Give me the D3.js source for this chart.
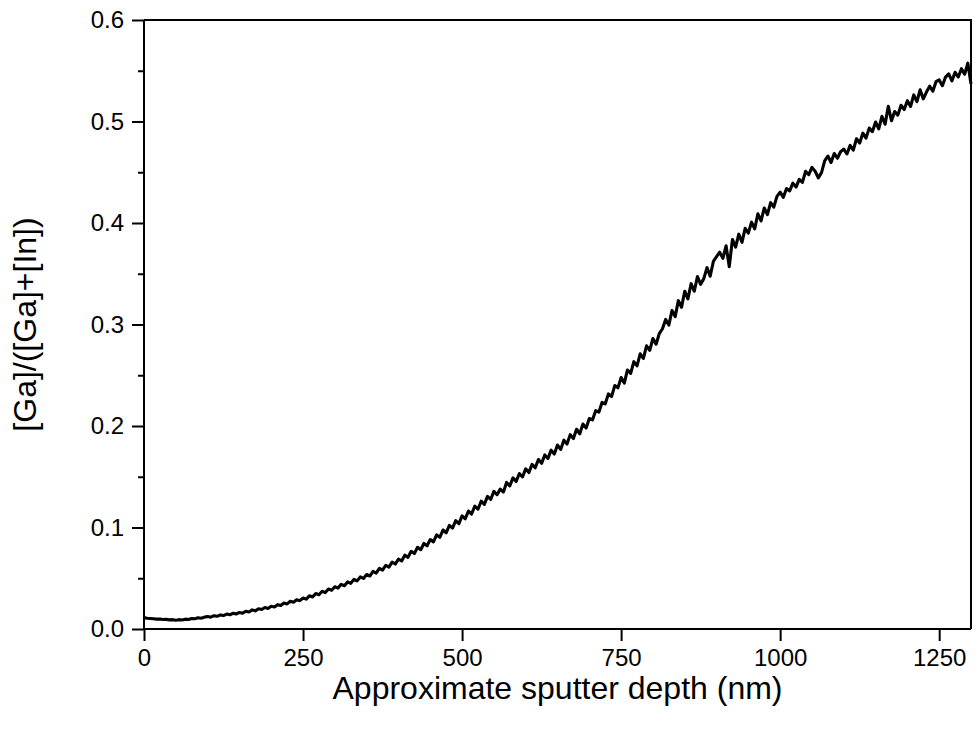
<!DOCTYPE html>
<html>
<head>
<meta charset="utf-8">
<script src="https://cdn.jsdelivr.net/npm/d3@7"></script>
<style>
  html, body { margin: 0; padding: 0; background: #fff; }
  svg { display: block; }
  text { font-family: "Liberation Sans", Arial, sans-serif; fill: #000; }
</style>
</head>
<body>
<div id="chart"></div>
<script>
// ---- data ----
const depthStart = 0;     // nm
const depthStep = 5;      // nm between samples
const gaRatio = [
  0.0112, 0.0106, 0.0104, 0.0101, 0.0097, 0.0099, 0.0093, 0.0095, 0.0090, 0.0092,
  0.0087, 0.0092, 0.0089, 0.0097, 0.0094, 0.0104, 0.0101, 0.0110, 0.0106, 0.0117,
  0.0123, 0.0116, 0.0131, 0.0125, 0.0139, 0.0132, 0.0147, 0.0140, 0.0155, 0.0148,
  0.0163, 0.0156, 0.0175, 0.0168, 0.0188, 0.0179, 0.0199, 0.0192, 0.0212, 0.0203,
  0.0224, 0.0217, 0.0240, 0.0231, 0.0256, 0.0247, 0.0273, 0.0263, 0.0288, 0.0279,
  0.0305, 0.0294, 0.0327, 0.0316, 0.0349, 0.0338, 0.0372, 0.0359, 0.0394, 0.0382,
  0.0416, 0.0403, 0.0440, 0.0426, 0.0464, 0.0450, 0.0489, 0.0474, 0.0513, 0.0498,
  0.0537, 0.0522, 0.0567, 0.0551, 0.0598, 0.0581, 0.0628, 0.0610, 0.0659, 0.0640,
  0.0688, 0.0670, 0.0727, 0.0706, 0.0766, 0.0743, 0.0805, 0.0781, 0.0843, 0.0820,
  0.0881, 0.0858, 0.0927, 0.0903, 0.0975, 0.0948, 0.1021, 0.0994, 0.1067, 0.1038,
  0.1114, 0.1086, 0.1162, 0.1133, 0.1211, 0.1180, 0.1259, 0.1228, 0.1307, 0.1276,
  0.1356, 0.1323, 0.1378, 0.1350, 0.1444, 0.1410, 0.1489, 0.1453, 0.1532, 0.1498,
  0.1578, 0.1541, 0.1622, 0.1588, 0.1670, 0.1632, 0.1715, 0.1680, 0.1762, 0.1724,
  0.1812, 0.1769, 0.1860, 0.1822, 0.1915, 0.1876, 0.1968, 0.1923, 0.2020, 0.1979,
  0.2074, 0.2060, 0.2151, 0.2136, 0.2232, 0.2218, 0.2316, 0.2290, 0.2398, 0.2376,
  0.2478, 0.2423, 0.2552, 0.2518, 0.2634, 0.2592, 0.2711, 0.2666, 0.2790, 0.2746,
  0.2862, 0.2806, 0.2910, 0.2958, 0.3050, 0.2994, 0.3138, 0.3078, 0.3235, 0.3170,
  0.3328, 0.3253, 0.3402, 0.3328, 0.3472, 0.3396, 0.3452, 0.3560, 0.3476, 0.3621,
  0.3668, 0.3712, 0.3652, 0.3775, 0.3570, 0.3838, 0.3763, 0.3890, 0.3810, 0.3948,
  0.3900, 0.4008, 0.3943, 0.4090, 0.4020, 0.4148, 0.4083, 0.4200, 0.4156, 0.4262,
  0.4304, 0.4253, 0.4340, 0.4316, 0.4392, 0.4354, 0.4430, 0.4400, 0.4510, 0.4476,
  0.4548, 0.4510, 0.4445, 0.4496, 0.4612, 0.4660, 0.4596, 0.4685, 0.4638, 0.4702,
  0.4728, 0.4680, 0.4765, 0.4718, 0.4830, 0.4788, 0.4885, 0.4836, 0.4935, 0.4900,
  0.4995, 0.4928, 0.5050, 0.4973, 0.5150, 0.5008, 0.5098, 0.5063, 0.5160, 0.5118,
  0.5205, 0.5148, 0.5262, 0.5196, 0.5312, 0.5223, 0.5290, 0.5348, 0.5298, 0.5392,
  0.5410, 0.5353, 0.5438, 0.5470, 0.5400, 0.5485, 0.5438, 0.5520, 0.5466, 0.5575,
  0.5370
];
const xTicks = [0, 250, 500, 750, 1000, 1250];
const yTicks = [0.0, 0.1, 0.2, 0.3, 0.4, 0.5, 0.6];
const yMinorTicks = [0.05, 0.15, 0.25, 0.35, 0.45, 0.55];
const xLabel = "Approximate sputter depth (nm)";
const yLabel = "[Ga]/([Ga]+[In])";

// ---- layout ----
const W = 978, H = 731;
const margin = { left: 144, top: 20, right: 7, bottom: 102 };
const iw = W - margin.left - margin.right;
const ih = H - margin.top - margin.bottom;

const svg = d3.select("#chart").append("svg").attr("width", W).attr("height", H);
const g = svg.append("g").attr("transform", `translate(${margin.left},${margin.top})`);

const x = d3.scaleLinear().domain([0, 1300]).range([0, iw]);
const y = d3.scaleLinear().domain([0, 0.6]).range([ih, 0]);

const points = gaRatio.map((v, i) => ({ d: depthStart + i * depthStep, v }));

// data line
g.append("path")
  .datum(points)
  .attr("fill", "none")
  .attr("stroke", "#000")
  .attr("stroke-width", 3.1)
  .attr("stroke-linejoin", "round")
  .attr("d", d3.line().x(p => x(p.d)).y(p => y(p.v)));

// frame (top & right)
g.append("path")
  .attr("fill", "none").attr("stroke", "#000").attr("stroke-width", 2)
  .attr("d", `M0,0H${iw}V${ih}`);

// x axis
const xAxis = g.append("g").attr("transform", `translate(0,${ih})`)
  .call(d3.axisBottom(x).tickValues(xTicks).tickFormat(d3.format("d")).tickSize(12).tickPadding(8));
// y axis
const yAxis = g.append("g")
  .call(d3.axisLeft(y).tickValues(yTicks).tickFormat(d3.format(".1f")).tickSize(12).tickPadding(8));
const yMinor = g.append("g")
  .call(d3.axisLeft(y).tickValues(yMinorTicks).tickFormat("").tickSize(6));

[xAxis, yAxis, yMinor].forEach(a => {
  a.select(".domain").attr("stroke", "#000").attr("stroke-width", 2);
  a.selectAll(".tick line").attr("stroke", "#000").attr("stroke-width", 2);
  a.selectAll(".tick text").attr("font-size", 24).attr("font-family", "Liberation Sans, Arial, sans-serif").attr("fill", "#000");
});
yMinor.select(".domain").remove();
xAxis.select(".domain").attr("d", `M0,0H${iw}`);
yAxis.select(".domain").attr("d", `M0,${ih}V0`);

// axis titles
svg.append("text")
  .attr("x", margin.left + iw / 2).attr("y", 699)
  .attr("text-anchor", "middle").attr("font-size", 32)
  .text(xLabel);
svg.append("text")
  .attr("transform", `translate(36,${margin.top + ih / 2}) rotate(-90)`)
  .attr("text-anchor", "middle").attr("font-size", 32)
  .text(yLabel);
</script>
</body>
</html>
